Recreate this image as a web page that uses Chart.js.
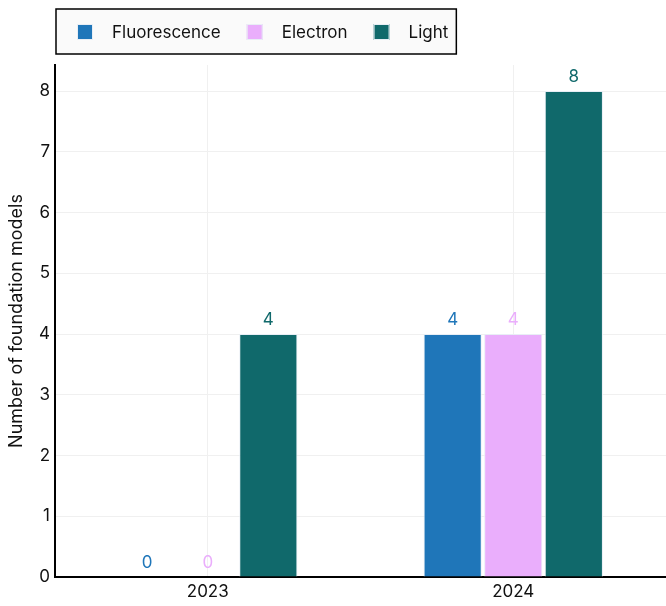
<!DOCTYPE html>
<html>
<head>
<meta charset="utf-8">
<script src="https://cdn.jsdelivr.net/npm/chart.js@4"></script>
<style>
  html, body { margin: 0; padding: 0; background: #fff; }
  #wrap { width: 666px; height: 606px; }
</style>
</head>
<body>
<div id="wrap"><canvas id="c" width="666" height="606"></canvas></div>
<script>
// Data
const years = ['2023', '2024'];
const fluorescence = [0, 4];
const electron = [0, 4];
const light = [4, 8];
const seriesNames = ['Fluorescence', 'Electron', 'Light'];
const seriesColours = ['#1f76b9', '#eaaefc', '#10696b'];

Chart.defaults.font.family = 'Inter, "Liberation Sans", sans-serif';
Chart.defaults.color = '#111';

// Value labels above every bar, in the series colour
const valueLabels = {
    id: 'valueLabels',
    afterDatasetsDraw(chart) {
        const ctx = chart.ctx;
        ctx.save();
        ctx.font = '17px Inter, sans-serif';
        ctx.textAlign = 'center';
        ctx.textBaseline = 'middle';
        chart.data.datasets.forEach((ds, i) => {
            chart.getDatasetMeta(i).data.forEach((bar, j) => {
                ctx.fillStyle = seriesColours[i];
                ctx.fillText(ds.data[j], bar.x, bar.y - 14);
            });
        });
        ctx.restore();
    }
};

// Boxed legend at the top left
const boxLegend = {
    id: 'boxLegend',
    afterDraw(chart) {
        const ctx = chart.ctx;
        const left = 56, top = 9, h = 45;
        ctx.save();
        ctx.font = '17px Inter, sans-serif';
        let x = left + 21;
        const items = chart.data.datasets.map((ds, i) => {
            const it = {x, label: ds.label, colour: seriesColours[i]};
            x += 16 + 19 + ctx.measureText(ds.label).width + 26;
            return it;
        });
        const right = x - 26 + 8;
        ctx.fillStyle = '#fafafa';
        ctx.fillRect(left, top, right - left, h);
        ctx.strokeStyle = '#000';
        ctx.lineWidth = 1.5;
        ctx.strokeRect(left, top, right - left, h);
        ctx.textBaseline = 'middle';
        ctx.textAlign = 'left';
        items.forEach(it => {
            ctx.fillStyle = it.colour;
            ctx.fillRect(it.x, top + 15, 16, 16);
            ctx.strokeStyle = '#e8eef5';
            ctx.lineWidth = 1;
            ctx.strokeRect(it.x + 0.5, top + 15.5, 15, 15);
            ctx.fillStyle = '#111';
            ctx.fillText(it.label, it.x + 35, top + h / 2 + 1);
        });
        ctx.restore();
    }
};

new Chart(document.getElementById('c'), {
    type: 'bar',
    data: {
        labels: years,
        datasets: [fluorescence, electron, light].map((d, i) => ({
            label: seriesNames[i],
            data: d,
            backgroundColor: seriesColours[i],
            borderColor: '#e8eef5',
            borderWidth: 1,
            categoryPercentage: 0.595,
            barPercentage: 0.96
        }))
    },
    options: {
        responsive: false,
        animation: false,
        layout: { padding: { top: 65, left: 0, right: 0, bottom: 0 } },
        plugins: {
            legend: { display: false },
            tooltip: { enabled: false }
        },
        scales: {
            x: {
                grid: { offset: false, color: '#f0f0f0', drawTicks: false },
                border: { color: '#000', width: 2 },
                ticks: { font: { size: 17 }, color: '#111', padding: 5 },
                afterFit: s => { s.height = 29; }
            },
            y: {
                min: 0,
                max: 8.43,
                ticks: { stepSize: 1, font: { size: 17 }, color: '#111', padding: 5 },
                afterBuildTicks: s => { s.ticks = s.ticks.filter(t => Number.isInteger(t.value)); },
                grid: { color: '#f0f0f0', drawTicks: false },
                border: { color: '#000', width: 2 },
                title: {
                    display: true,
                    text: 'Number of foundation models',
                    font: { size: 18 },
                    color: '#111',
                    padding: { top: 6, bottom: 0 }
                },
                afterFit: s => { s.width = 55; }
            }
        }
    },
    plugins: [valueLabels, boxLegend]
});
</script>
</body>
</html>
